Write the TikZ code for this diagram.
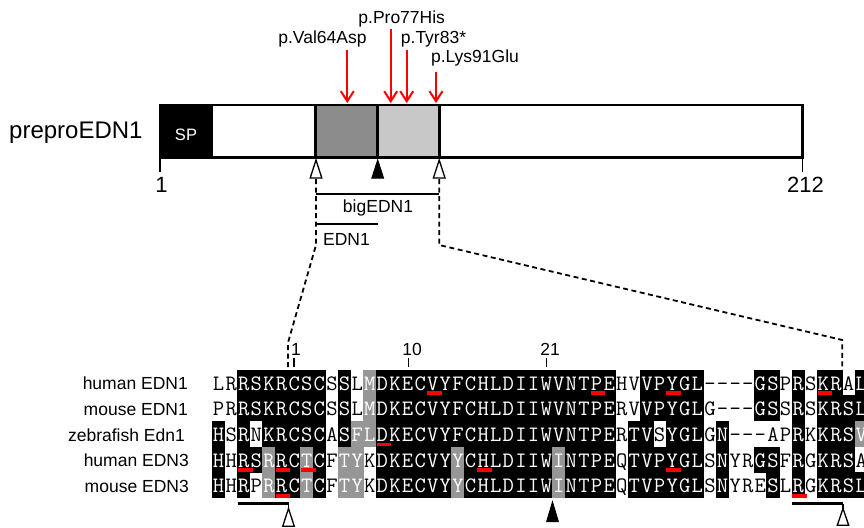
\documentclass[tikz,border=0pt]{standalone}
\usepackage{fontspec}
\setmainfont{Liberation Sans}
\usetikzlibrary{arrows.meta}
\definecolor{dgray}{RGB}{140,140,140}
\definecolor{lgray}{RGB}{200,200,200}
\definecolor{agray}{RGB}{150,150,150}
\definecolor{mred}{RGB}{255,0,0}
\newcount\alncol
\def\alnend{}
\newcommand\alnrow[3]{\global\alncol=0 \def\alnr{#1}\alnwalk#2\alnend#3\alnend}
\def\alnwalk#1#2\alnend#3#4\alnend{\global\advance\alncol by 1 \alncell{#1}{#3}\ifx\relax#2\relax\else\alnwalk#2\alnend#4\alnend\fi}
\newcommand\alncell[2]{%
  \pgfmathsetmacro\cx{212.3+(\the\alncol-1)*12.6}%
  \pgfmathsetmacro\cy{370+(\alnr-1)*25.6}%
  \path[cell#2] (\cx-0.25,\cy-0.25) rectangle (\cx+12.85,\cy+25.85);%
  \node[seqchar, txt#2] (a\alnr c\the\alncol) at (\cx+6.3,\cy+20.3) {#1};}
\newcommand\redmark[2]{%
  \pgfmathsetmacro\cx{212.3+(#2-1)*12.6}%
  \pgfmathsetmacro\cy{370+#1*25.6}%
  \fill[mred] (\cx+0.5,\cy-4.2) rectangle (\cx+15,\cy-0.4);}
\begin{document}
\begin{tikzpicture}[x=1pt,y=-1pt,
  lab/.style={font=\fontsize{17.5}{20}\selectfont, inner sep=0pt},
  big/.style={font=\fontsize{22}{24}\selectfont, inner sep=0pt},
  seqchar/.style={font=\ttfamily\fontsize{22}{22}\selectfont, anchor=base, inner sep=0pt},
  cellb/.style={fill=black}, cellg/.style={fill=agray}, cellw/.style={},
  txtb/.style={text=white}, txtg/.style={text=white}, txtw/.style={text=black},
  mutarrow/.style={draw=mred, line width=2pt, -{Straight Barb[length=10pt,width=13pt]}},
  dashline/.style={line width=1.8pt, dash pattern=on 5pt off 3.5pt},
  barline/.style={line width=2.6pt},
  opentri/.style={draw, fill=white, line width=1.3pt, line join=miter},
  filltri/.style={draw, fill=black, line width=1pt},
  thinline/.style={line width=1.8pt},
  tickline/.style={line width=1.5pt}]
\useasboundingbox (0,0) rectangle (864,527);
\fill[white] (0,0) rectangle (864,527);

% ---------------- protein scheme ----------------
\coordinate (barNW) at (160,105);
\coordinate (barSE) at (802.7,157.5);
\fill[black] (160,105) rectangle (213.3,157.5);
\fill[dgray] (315.7,105) rectangle (377.7,157.5);
\fill[lgray] (377.7,105) rectangle (439.2,157.5);
\draw[barline] (barNW) rectangle (barSE);
\draw[barline] (315.7,105) -- (315.7,157.5);
\draw[barline] (377.7,105) -- (377.7,157.5);
\draw[barline] (439.2,105) -- (439.2,157.5);
\node[font=\fontsize{16.5}{18}\selectfont, text=white, inner sep=0pt, anchor=base] (sp) at (186,140) {SP};
\node[font=\fontsize{24}{26}\selectfont, inner sep=0pt, anchor=base west] (prepro) at (9,138) {preproEDN1};

\draw[tickline] (160,157.5) -- (160,171.5);
\draw[tickline] (802.7,157.5) -- (802.7,171.5);
\node[big, anchor=base] (n1) at (161.5,192) {1};
\node[big, anchor=base] (n212) at (805.5,192) {212};

% mutation labels and arrows
\node[lab, anchor=base] (v64) at (322.5,44) {p.Val64Asp};
\node[lab, anchor=base] (p77) at (401.7,24) {p.Pro77His};
\node[lab, anchor=base] (y83) at (433.5,44) {p.Tyr83*};
\node[lab, anchor=base] (k91) at (475,62.5) {p.Lys91Glu};
\coordinate (v64t) at (347.3,103);
\coordinate (p77t) at (390.7,103);
\coordinate (y83t) at (406.7,103);
\coordinate (k91t) at (436,103);
\draw[mutarrow] (347.3,50) -- (v64t);
\draw[mutarrow] (390.7,29) -- (p77t);
\draw[mutarrow] (406.7,50) -- (y83t);
\draw[mutarrow] (436,71.5) -- (k91t);

% cleavage triangles
\coordinate (c1) at (316,160);
\coordinate (c2) at (377.7,160);
\coordinate (c3) at (439.2,160);
\draw[opentri] (c1) -- ++(5.8,18) -- ++(-11.6,0) -- cycle;
\draw[filltri] (c2) -- ++(5.8,18) -- ++(-11.6,0) -- cycle;
\draw[opentri] (c3) -- ++(5.8,18) -- ++(-11.6,0) -- cycle;

% big EDN1 / EDN1
\draw[thinline] (316,194) -- (439.2,194);
\node[lab, anchor=base] (big1) at (378,212.5) {bigEDN1};
\draw[thinline] (316,224) -- (377.7,224);
\node[lab, anchor=base] (edn1) at (346.5,245) {EDN1};

% zoom lines
\coordinate (zl) at (287.9,367);
\coordinate (zr) at (842.3,370);
\draw[dashline] (316,179) -- (316,245) -- (287.9,343) -- (zl);
\draw[dashline] (439.2,179) -- (439.2,245) -- (842.3,340) -- (zr);

% ---------------- alignment ----------------
\node[lab, anchor=base east] (s1) at (188,389.5) {human EDN1};
\node[lab, anchor=base east] (s2) at (188,415.5) {mouse EDN1};
\node[lab, anchor=base east] (s3) at (185,441) {zebrafish Edn1};
\node[lab, anchor=base east] (s4) at (189,466.5) {human EDN3};
\node[lab, anchor=base east] (s5) at (189,492) {mouse EDN3};

\alnrow{1}{LRRSKRCSCSSLMDKECVYFCHLDIIWVNTPEHVVPYGL----GSPRSKRAL}{wwbbbbbbbwbwgbbbbbbbbbbbbbbbbbbbwwbbbbbwwwwbbwbwbbwb}
\alnrow{2}{PRRSKRCSCSSLMDKECVYFCHLDIIWVNTPERVVPYGLG---GSSRSKRSL}{wwbbbbbbbwbwgbbbbbbbbbbbbbbbbbbbwwbbbbbwwwwbbwbwbbbb}
\alnrow{3}{HSRNKRCSCASFLDKECVYFCHLDIIWVNTPERTVSYGLGN---APRKKRSV}{bwbwbbbbbwbggbbbbbbbbbbbbbbbbbbbwbbwbbbwbwwwwwbwbbbg}
\alnrow{4}{HHRSRRCTCFTYKDKECVYYCHLDIIWINTPEQTVPYGLSNYRGSFRGKRSA}{bwbbgbbgbwggwbbbbbbgbbbbbbbgbbbbwbbbbbbwbwwbbwbwbbbw}
\alnrow{5}{HHRPRRCTCFTYKDKECVYYCHLDIIWINTPEQTVPYGLSNYRESLRGKRSL}{bwbwgbbgbwggwbbbbbbgbbbbbbbgbbbbwbbbbbbwbwwwbwbwbbbb}

\redmark{1}{18}\redmark{1}{31}\redmark{1}{37}\redmark{1}{49}
\redmark{3}{14}
\redmark{4}{3}\redmark{4}{6}\redmark{4}{8}\redmark{4}{22}\redmark{4}{37}
\redmark{5}{6}\redmark{5}{47}

% numbering
\draw[tickline] (294.2,358) -- (294.2,367);
\draw[tickline] (408.5,358) -- (408.5,367);
\draw[tickline] (546.5,358) -- (546.5,367);
\node[lab, anchor=base] (p1) at (296,355.5) {1};
\node[lab, anchor=base] (p10) at (412,355.5) {10};
\node[lab, anchor=base] (p21) at (550,355.5) {21};

% bottom marks
\draw[line width=3.5pt] (237.5,503.7) -- (288.8,503.7);
\draw[line width=1.3pt] (288.5,503.7) -- (288.5,508.5);
\draw[opentri] (288.5,508.5) -- ++(5.8,17.8) -- ++(-11.6,0) -- cycle;
\draw[line width=3.5pt] (792.3,503.7) -- (843.3,503.7);
\draw[line width=1.3pt] (843,503.7) -- (843,508.5);
\draw[opentri] (843,508.5) -- ++(5.7,16.8) -- ++(-11.4,0) -- cycle;
\draw[filltri] (552.5,502) -- ++(5.8,19.5) -- ++(-11.6,0) -- cycle;
\end{tikzpicture}
\end{document}
